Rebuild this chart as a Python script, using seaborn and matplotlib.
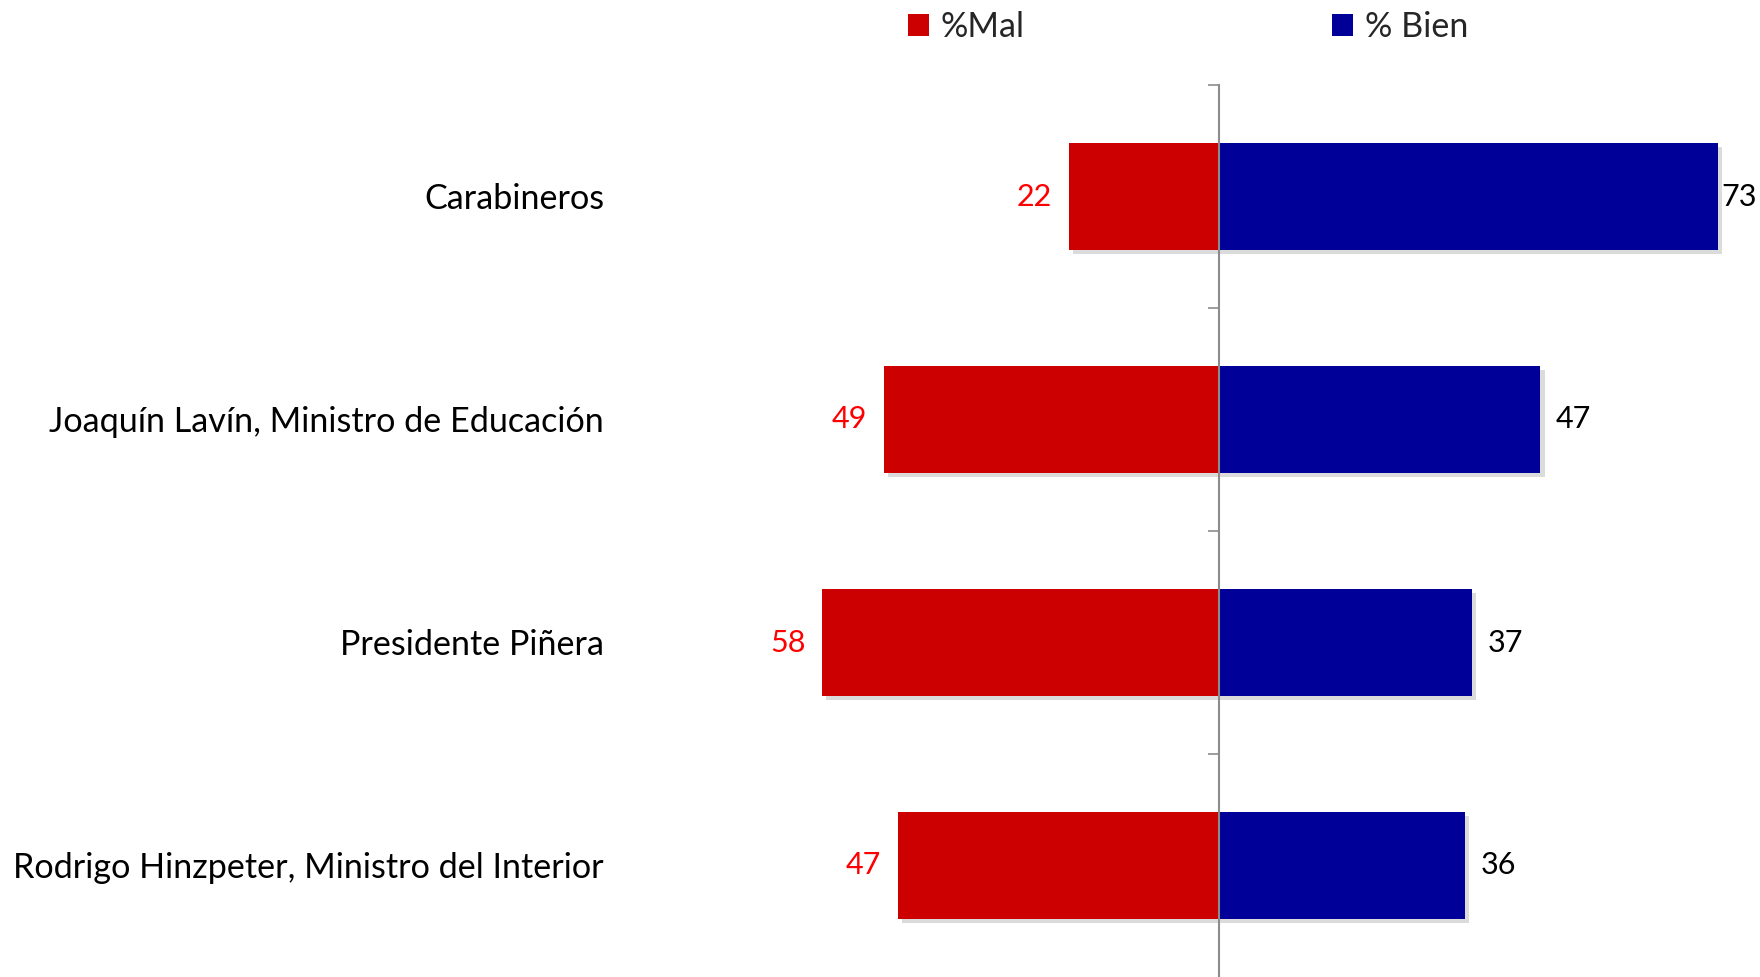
import pandas as pd
import matplotlib.pyplot as plt
import matplotlib.patheffects as pe
import seaborn as sns

# Data
categorias = ['Carabineros', 'Joaquín Lavín, Ministro de Educación',
              'Presidente Piñera', 'Rodrigo Hinzpeter, Ministro del Interior']
mal = [22, 49, 58, 47]
bien = [73, 47, 37, 36]
series = ['%Mal', '% Bien']

df = pd.DataFrame({
    'categoria': categorias * 2,
    'valor': [-v for v in mal] + bien,
    'serie': [series[0]] * len(mal) + [series[1]] * len(bien),
})

sns.set_style('white')
plt.rcParams['font.family'] = ['Lato', 'DejaVu Sans']

fig = plt.figure(figsize=(17.6, 9.77), dpi=100)
ax = fig.add_axes([0, 0, 1, 1 - 85 / 977])

sns.barplot(data=df, y='categoria', x='valor', hue='serie', dodge=False,
            palette={'%Mal': '#CC0000', '% Bien': '#000099'}, saturation=1,
            width=0.48, linewidth=0, orient='h', ax=ax)

# legend on top (before shadows so the handles stay flat)
handles, labels = ax.get_legend_handles_labels()
ax.get_legend().remove()
fig.legend(handles, labels, loc='center', bbox_to_anchor=(1188 / 1760, 1 - 27 / 977),
           ncol=2, frameon=False, fontsize=24.6, handlelength=0.6, handleheight=0.6,
           handletextpad=0.35, columnspacing=9.0)

# soft drop shadow on the bars
for p in ax.patches:
    p.set_path_effects([pe.SimplePatchShadow(offset=(3, -3), shadow_rgbFace='#999999', alpha=0.35),
                        pe.Normal()])

# value labels
ax.bar_label(ax.containers[0], fmt=lambda v: f'{abs(v):.0f}', padding=12,
             color='#FF0000', fontsize=22)
bien_lbl = ax.bar_label(ax.containers[1], fmt=lambda v: f'{abs(v):.0f}', padding=11,
                        color='black', fontsize=22)

ax.set_xlim(-1219 / 6.84, (1760 - 1219) / 6.84)
ax.set_ylim(3.5, -0.5)

# central axis with ticks between categories
for s in ['top', 'right', 'bottom']:
    ax.spines[s].set_visible(False)
ax.spines['left'].set_position(('data', 0))
ax.spines['left'].set_color('#8C8C8C')
ax.spines['left'].set_linewidth(1.5)
ax.spines['left'].set_zorder(5)
ax.set_yticks([-0.5, 0.5, 1.5, 2.5])
ax.set_yticklabels([])
ax.tick_params(axis='y', length=8, width=1.2, color='#8C8C8C', direction='out', left=True)
ax.set_xticks([])
ax.set_xlabel('')
ax.set_ylabel('')

# category labels on the left
for i, c in enumerate(categorias):
    ax.text(604 / 1760, i + 0.01, c, transform=ax.get_yaxis_transform(),
            ha='right', va='center', fontsize=24.6, color='black')

# keep labels that hit the right edge inside the figure
r = fig.canvas.get_renderer()
for t in bien_lbl:
    bb = t.get_window_extent(r)
    if bb.x1 > fig.bbox.width - 2:
        t.xyann = (t.xyann[0] - (bb.x1 - fig.bbox.width + 3) * 72 / fig.dpi, t.xyann[1])

fig.savefig('out.png', dpi=100)
